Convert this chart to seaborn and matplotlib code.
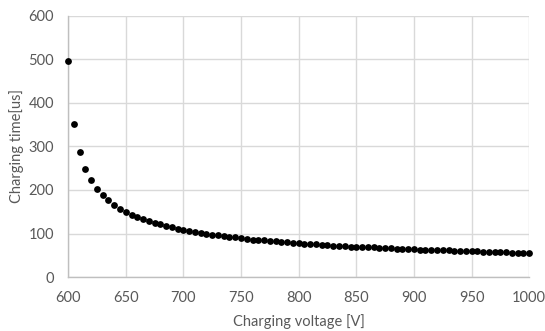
import matplotlib
matplotlib.use("Agg")
import matplotlib.pyplot as plt
import seaborn as sns
import pandas as pd

# Charging voltage [V], 5 V steps from 600 to 1000
voltage = list(range(600, 1001, 5))

# Charging time [us]
charging_time = [
    497, 351, 287, 248, 222, 203, 188, 176, 166, 157,
    150, 143, 138, 133, 128, 124, 121, 117, 114, 111,
    108, 106, 104, 101, 99, 97, 96, 94, 92, 91,
    89, 88, 86, 85, 84, 83, 82, 81, 80, 79,
    78, 77, 76, 75, 74, 73, 72, 72, 71, 70,
    70, 69, 68, 68, 67, 66, 66, 65, 65, 64,
    64, 63, 63, 62, 62, 61, 61, 60, 60, 59,
    59, 59, 58, 58, 57, 57, 57, 56, 56, 56,
    55,
]

x_ticks = [600, 650, 700, 750, 800, 850, 900, 950, 1000]
y_ticks = [0, 100, 200, 300, 400, 500, 600]

df = pd.DataFrame({"Charging voltage [V]": voltage, "Charging time[us]": charging_time})

sns.set_style("white")
plt.rcParams["font.family"] = ["Lato", "DejaVu Sans"]

fig = plt.figure(figsize=(5.45, 3.31), dpi=100)
ax = fig.add_axes([0.125, 0.163, 0.846, 0.789])

sns.scatterplot(data=df, x="Charging voltage [V]", y="Charging time[us]",
                color="black", s=24, linewidth=0, ax=ax, zorder=3, clip_on=False)

ax.set_xlim(600, 1000)
ax.set_ylim(0, 600)
ax.set_xticks(x_ticks)
ax.set_yticks(y_ticks)
ax.grid(True, color="#d9d9d9", linewidth=1.0)
ax.set_axisbelow(True)

for side in ["top", "right"]:
    ax.spines[side].set_visible(False)
for side in ["left", "bottom"]:
    ax.spines[side].set_color("#bfbfbf")
    ax.spines[side].set_linewidth(1.0)

ax.tick_params(axis="both", colors="#bfbfbf", length=4, width=1.0,
               labelcolor="#595959", labelsize=10.5, direction="out")
ax.tick_params(axis="x", pad=6)
ax.tick_params(axis="y", pad=6)
ax.set_xlabel("Charging voltage [V]", fontsize=10.5, color="#595959")
ax.set_ylabel("Charging time[us]", fontsize=10.5, color="#595959")
ax.xaxis.set_label_coords(0.5, -0.14)
ax.yaxis.set_label_coords(-0.095, 0.5)

fig.savefig("out.png", dpi=100)
